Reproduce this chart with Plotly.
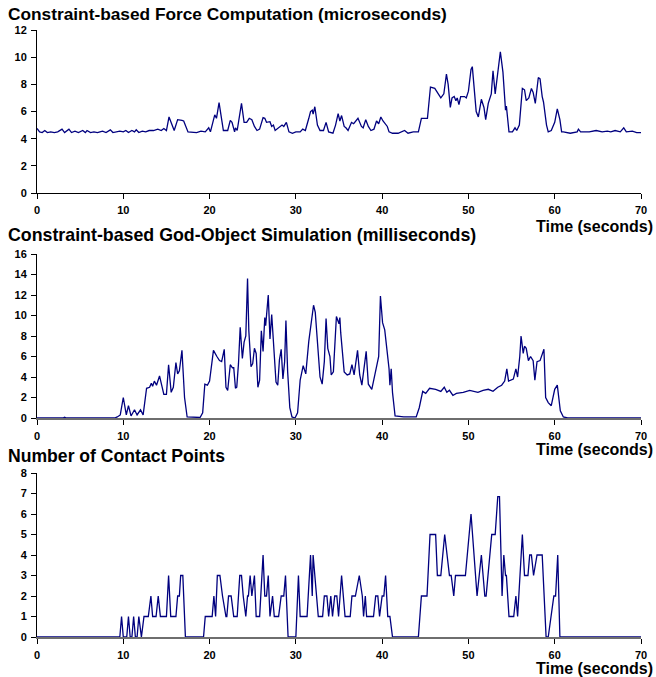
import plotly.graph_objects as go

# ---------------- data (time in seconds, value) ----------------
FORCE_T = [0, 0.3, 0.6, 0.9, 1.2, 1.6, 2.0, 2.4, 2.9, 3.2, 3.7, 4.0, 4.4, 4.8, 5.3, 5.6, 5.8, 6.2, 6.6, 7.0,
           7.3, 7.6, 8.0, 8.5, 8.8, 9.2, 9.6, 10.0, 10.3, 10.6, 11.0, 11.3, 11.5, 11.8, 12.2, 12.6, 13.0, 13.5, 14.0, 14.4,
           14.7, 15.0, 15.3, 15.9, 16.3, 16.8, 17.0, 17.5, 18.0, 18.5, 19.0, 19.5, 19.9, 20.1, 20.6, 20.8, 21.1, 21.4, 21.6, 22.1,
           22.4, 22.6, 22.9, 23.0, 23.2, 23.7, 24.0, 24.3, 24.6, 24.9, 25.2, 25.5, 25.8, 26.2, 26.4, 26.6, 27.0, 27.2, 27.4, 27.6,
           28.0, 28.4, 28.6, 28.9, 29.2, 29.6, 30.0, 30.5, 30.8, 31.1, 31.5, 31.7, 31.9, 32.0, 32.2, 32.5, 32.8, 33.2, 33.5, 33.8,
           34.3, 34.6, 34.9, 35.1, 35.3, 35.6, 35.8, 36.05, 36.45, 36.7, 37.2, 37.6, 37.8, 38.1, 38.4, 38.7, 39.05, 39.35, 39.6, 39.85,
           40.1, 40.4, 40.6, 40.8, 41.2, 41.85, 42.2, 42.6, 43.0, 43.6, 44.2, 44.55, 45.25, 45.6, 46.1, 46.5, 46.8, 47.15, 47.45, 47.65,
           47.9, 48.1, 48.35, 48.55, 48.7, 48.9, 49.1, 49.55, 49.75, 50.0, 50.3, 50.45, 50.65, 50.9, 51.15, 51.5, 51.8, 52.0, 52.3, 52.65,
           52.85, 53.1, 53.7, 54.0, 54.3, 54.4, 54.7, 55.1, 55.4, 55.6, 55.9, 56.25, 56.5, 56.7, 57.0, 57.3, 57.5, 57.75, 58.1, 58.3,
           58.55, 58.7, 59.05, 59.25, 59.6, 60.0, 60.3, 60.6, 60.8, 61.0, 61.8, 62.6, 62.75, 63.0, 64.0, 64.8, 65.5, 66.1, 66.5, 67.0,
           67.6, 68.0, 68.3, 68.5, 69.0, 69.5, 70.0]
FORCE_V = [4.75, 4.5, 4.45, 4.6, 4.45, 4.5, 4.45, 4.5, 4.7, 4.45, 4.7, 4.45, 4.55, 4.45, 4.6, 4.45, 4.6, 4.45, 4.5, 4.45,
           4.5, 4.55, 4.45, 4.65, 4.45, 4.5, 4.55, 4.5, 4.6, 4.45, 4.6, 4.5, 4.65, 4.45, 4.55, 4.5, 4.6, 4.6, 4.7, 4.6,
           4.75, 4.6, 5.6, 4.6, 5.4, 5.35, 5.3, 4.5, 4.5, 4.45, 4.55, 4.5, 4.8, 4.5, 5.75, 5.5, 6.65, 5.3, 4.6, 4.6,
           5.35, 5.2, 4.5, 4.8, 4.6, 6.6, 5.2, 5.2, 5.5, 5.4, 4.9, 4.6, 4.7, 5.55, 5.5, 5.2, 5.25, 4.9, 5.0, 4.6,
           4.8, 5.0, 4.9, 5.2, 4.5, 4.4, 4.5, 4.5, 4.7, 4.6, 5.5, 6.0, 6.1, 5.8, 6.35, 5.0, 4.6, 4.6, 5.2, 4.5,
           4.4, 5.0, 5.85, 5.3, 5.7, 4.9, 4.8, 4.6, 5.2, 5.1, 5.5, 4.9, 4.8, 5.4, 4.9, 4.6, 4.7, 5.3, 5.1, 5.6,
           5.3, 5.0, 4.9, 4.5, 4.4, 4.4, 4.5, 4.6, 4.4, 4.5, 4.5, 5.5, 5.5, 7.8, 7.7, 7.3, 7.0, 7.3, 8.75, 8.0,
           6.3, 7.0, 7.1, 6.8, 7.0, 6.5, 7.1, 7.1, 7.0, 7.5, 9.1, 9.3, 7.8, 6.0, 5.6, 6.9, 6.3, 5.4, 6.6, 7.3,
           9.0, 7.3, 10.4, 8.9, 6.1, 6.4, 4.5, 4.5, 4.8, 4.6, 5.0, 7.7, 7.6, 6.8, 7.0, 7.7, 7.4, 6.6, 8.5, 8.4,
           7.1, 6.7, 5.0, 4.5, 4.6, 5.2, 6.2, 5.4, 4.5, 4.5, 4.4, 4.5, 4.7, 4.5, 4.5, 4.6, 4.5, 4.55, 4.5, 4.6,
           4.5, 4.8, 4.5, 4.5, 4.55, 4.45, 4.45]

GOD = [(0, 0), (3.0, 0), (3.2, 0.08), (3.4, 0), (9.0, 0), (9.3, 0.1), (9.65, 0.3), (10.0, 2.0), (10.35, 0.3),
       (10.6, 1.2), (10.9, 0.2), (11.3, 0.8), (11.6, 0.3), (12.0, 0.8), (12.3, 0.3), (12.7, 2.9), (13.05, 3.0),
       (13.25, 3.4), (13.4, 3.1), (13.6, 3.6), (13.85, 3.2), (14.2, 4.1), (14.45, 3.2), (14.7, 2.3), (15.0, 2.3),
       (15.25, 5.2), (15.55, 2.5), (15.8, 3.0), (16.1, 5.4), (16.3, 4.3), (16.5, 4.6), (16.8, 6.6), (17.1, 2.0),
       (17.4, 0.1), (18.9, 0.05), (19.2, 0.5), (19.45, 3.3), (19.75, 3.2), (20.0, 3.6), (20.3, 5.5), (20.45, 6.6),
       (20.85, 6.0), (21.15, 5.6), (21.4, 5.5), (21.7, 6.7), (21.9, 3.0), (22.1, 2.7), (22.4, 5.2), (22.65, 4.9),
       (22.8, 4.9), (23.0, 2.9), (23.15, 3.0), (23.35, 5.3), (23.55, 8.85), (23.8, 5.8), (24.0, 7.4), (24.2, 8.0),
       (24.4, 13.6), (24.55, 8.5), (24.8, 5.0), (25.0, 5.3), (25.2, 6.8), (25.4, 6.3), (25.6, 3.0), (25.8, 3.7),
       (26.0, 8.5), (26.2, 6.5), (26.4, 9.8), (26.5, 9.0), (26.8, 12.0), (27.0, 7.7), (27.2, 10.1), (27.5, 6.0),
       (27.7, 3.5), (27.9, 3.2), (28.1, 5.7), (28.3, 6.7), (28.5, 3.8), (28.7, 5.5), (28.85, 9.5), (29.05, 4.5),
       (29.3, 1.0), (29.55, 0.1), (29.9, 0.0), (30.2, 0.5), (30.5, 3.7), (30.85, 5.1), (31.15, 4.3), (31.5, 7.5),
       (31.8, 9.5), (32.05, 11.0), (32.25, 10.3), (32.5, 7.0), (32.8, 4.0), (33.05, 3.3), (33.3, 5.5), (33.5, 9.7),
       (33.7, 6.8), (33.95, 6.0), (34.1, 4.2), (34.35, 4.5), (34.7, 9.9), (35.0, 9.2), (35.1, 9.8), (35.2, 8.3),
       (35.6, 4.5), (35.95, 4.2), (36.25, 4.3), (36.5, 5.2), (36.75, 4.2), (37.15, 6.6), (37.4, 4.2), (37.65, 3.2),
       (38.15, 6.5), (38.4, 3.3), (38.8, 2.8), (39.4, 5.2), (39.6, 6.0), (39.8, 11.9), (40.05, 9.3), (40.3, 8.6),
       (40.8, 4.8), (40.9, 3.2), (41.05, 4.8), (41.2, 2.5), (41.5, 0.2), (42.5, 0.1), (43.95, 0.1), (44.3, 1.0),
       (44.7, 2.6), (45.05, 2.4), (45.5, 2.9), (46.2, 2.8), (46.8, 2.6), (47.2, 3.0), (47.5, 2.5), (47.8, 2.7),
       (48.2, 2.2), (48.6, 2.4), (49.4, 2.5), (50.15, 2.7), (50.6, 2.6), (51.1, 2.5), (51.7, 2.7), (52.3, 2.8),
       (52.85, 2.6), (53.4, 3.0), (53.85, 3.2), (54.2, 3.6), (54.45, 4.8), (54.65, 3.6), (55.2, 3.8), (55.5, 4.8),
       (55.7, 4.0), (55.95, 6.0), (56.1, 8.0), (56.35, 6.3), (56.5, 7.0), (56.7, 6.8), (56.95, 5.6), (57.2, 6.0),
       (57.5, 5.6), (57.7, 3.7), (57.95, 5.5), (58.3, 5.6), (58.75, 6.7), (58.95, 2.0), (59.25, 1.5), (59.6, 1.2),
       (60.0, 2.8), (60.3, 3.2), (60.65, 0.7), (61.0, 0.1), (61.5, 0), (70, 0)]

CONTACT = [(0, 0), (9.6, 0), (9.8, 1), (10.0, 0), (10.4, 0), (10.6, 1), (10.8, 0), (11.0, 0), (11.2, 1), (11.4, 0),
           (11.6, 0), (11.8, 1), (12.1, 0), (12.4, 1), (12.9, 1), (13.2, 2), (13.4, 1), (13.8, 1), (14.05, 2), (14.3, 1),
           (15.0, 1), (15.25, 3), (15.5, 1), (16.1, 1), (16.3, 2), (16.5, 2), (16.65, 3), (16.9, 3), (17.2, 0), (19.3, 0),
           (19.5, 1), (20.3, 1), (20.5, 2), (20.7, 1), (20.9, 3), (21.2, 3), (21.5, 2), (21.9, 1), (22.0, 1), (22.2, 2),
           (22.5, 2), (22.8, 1), (23.2, 1), (23.5, 3), (23.7, 3), (23.9, 2), (24.2, 1), (24.4, 2), (24.5, 2), (24.7, 3),
           (24.9, 2), (25.2, 3), (25.4, 1), (25.8, 1), (26.2, 4), (26.4, 2), (26.6, 2), (26.8, 3), (27.0, 1), (27.3, 2),
           (27.5, 1), (28.0, 1), (28.3, 2), (28.6, 2), (28.8, 3), (29.1, 0), (30.0, 0), (30.3, 3), (30.5, 1), (31.3, 1),
           (31.7, 4), (31.9, 2), (32.0, 4), (32.4, 2), (32.6, 1), (33.1, 1), (33.3, 2), (33.6, 2), (33.8, 1), (34.05, 2),
           (34.25, 1), (34.5, 2), (34.75, 2), (34.95, 1), (35.3, 3), (35.7, 1), (36.3, 1), (36.5, 2), (36.9, 2), (37.35, 3),
           (37.7, 2), (37.85, 1), (38.05, 2), (38.2, 1), (39.0, 1), (39.25, 2), (39.5, 2), (39.7, 1), (40.0, 2), (40.2, 2),
           (40.4, 3), (40.65, 1), (40.9, 1), (41.2, 0), (44.2, 0), (44.55, 2), (45.2, 2), (45.55, 5), (46.2, 5), (46.4, 3),
           (46.8, 3), (47.25, 5), (47.8, 3), (48.0, 3), (48.3, 2), (48.5, 3), (49.65, 3), (50.3, 6), (51.0, 2), (51.5, 4),
           (51.9, 2), (52.05, 2), (52.7, 5), (53.1, 5), (53.4, 6.85), (53.6, 6.85), (53.9, 2), (54.1, 4), (54.3, 3),
           (54.4, 3), (54.7, 1), (55.25, 1), (55.5, 2), (55.7, 1), (56.0, 3), (56.25, 5), (56.5, 3), (56.9, 3), (57.1, 4),
           (57.3, 4), (57.55, 3), (57.95, 4), (58.55, 4), (59.0, 0), (59.25, 0), (59.9, 2), (60.1, 2), (60.35, 4),
           (60.6, 0), (70, 0)]

TITLES = ["Constraint-based Force Computation (microseconds)",
          "Constraint-based God-Object Simulation (milliseconds)",
          "Number of Contact Points"]
X_LABEL = "Time (seconds)"
X_TICKS = [0, 10, 20, 30, 40, 50, 60, 70]
Y_RANGES = [(0, 12, 2), (0, 16, 2), (0, 8, 1)]

assert len(FORCE_T) == len(FORCE_V)
god_t = [p[0] for p in GOD]
god_v = [p[1] for p in GOD]
con_t = [p[0] for p in CONTACT]
con_v = [p[1] for p in CONTACT]

# ---------------- figure ----------------
W, H = 656, 677
LINE = "#00007f"
FONT = "Liberation Sans, Arial, sans-serif"
L, R = 37, 641               # plot area left/right in px
PW = R - L

panels = [(30, 193), (254, 418), (473, 637)]   # (top, bottom) px of each plot area
title_y = [14, 235, 456]
title_size = [17.3, 17.8, 17.6]
xlabel_y = [226, 449, 668]

fig = go.Figure()
series = [(FORCE_T, FORCE_V), (god_t, god_v), (con_t, con_v)]
for i, (t, v) in enumerate(series):
    sfx = "" if i == 0 else str(i + 1)
    fig.add_trace(go.Scatter(x=t, y=v, mode="lines", line=dict(color=LINE, width=1.3),
                             xaxis="x" + sfx, yaxis="y" + sfx, showlegend=False, hoverinfo="skip"))

layout = dict(width=W, height=H, margin=dict(l=L, r=W - R, t=0, b=0, autoexpand=False),
              paper_bgcolor="white", plot_bgcolor="white", showlegend=False)
annotations = []
for i, ((top, bot), (y0, y1, dy)) in enumerate(zip(panels, Y_RANGES)):
    sfx = "" if i == 0 else str(i + 1)
    dom = [1 - bot / H, 1 - top / H]
    xcol = "#000000" if i == 0 else "#6e6e6e"
    xw = 1 if i == 0 else 2
    layout["xaxis" + sfx] = dict(domain=[0, 1], range=[0, 70], anchor="y" + sfx,
                                 tickvals=X_TICKS, ticks="outside", ticklen=5, tickcolor="#000",
                                 showline=True, linecolor=xcol, linewidth=xw, showgrid=False,
                                 zeroline=False, tickfont=dict(family=FONT, size=11, color="#000", weight="bold"),
                                 ticklabelstandoff=2, fixedrange=True)
    layout["yaxis" + sfx] = dict(domain=dom, range=[y0, y1], dtick=dy, anchor="x" + sfx,
                                 ticks="outside", ticklen=5, tickcolor="#000",
                                 showline=True, linecolor="#000", linewidth=1, showgrid=False,
                                 zeroline=False, tickfont=dict(family=FONT, size=11, color="#000", weight="bold"),
                                 ticklabelstandoff=2, fixedrange=True)
    annotations.append(dict(text="<b>" + TITLES[i] + "</b>", xref="paper", yref="paper",
                            x=(6 - L) / PW, y=1 - title_y[i] / H, xanchor="left", yanchor="middle",
                            showarrow=False, font=dict(family=FONT, size=title_size[i], color="#000")))
    annotations.append(dict(text="<b>" + X_LABEL + "</b>", xref="paper", yref="paper",
                            x=(655 - L) / PW, y=1 - xlabel_y[i] / H, xanchor="right",
                            yanchor="middle", showarrow=False, font=dict(family=FONT, size=16, color="#000")))
layout["annotations"] = annotations
fig.update_layout(**layout)
fig.write_html("out.html", config={"displayModeBar": False, "staticPlot": True},
               post_script="document.body.style.margin='0';document.body.style.overflow='hidden';")
